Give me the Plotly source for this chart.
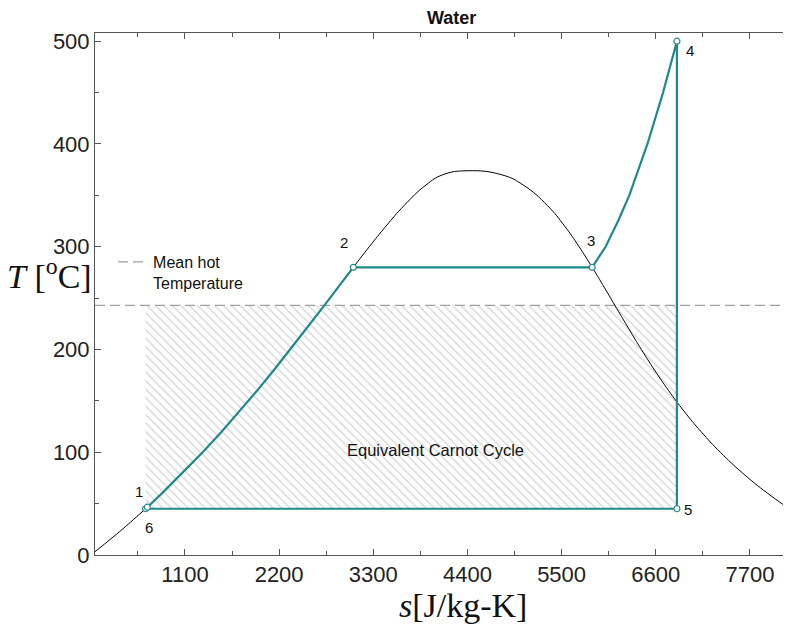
import plotly.graph_objects as go

# ---- data (read from the picture / water saturation data) ----
# saturated liquid line: T [C], s [J/kg-K]
sat_liq_T = [0.01, 20, 40, 60, 80, 100, 120, 140, 160, 180, 200, 220, 240, 260, 280, 300, 320, 340, 360, 370, 373.95]
sat_liq_s = [0, 296.6, 572.4, 831.2, 1075.3, 1306.9, 1527.6, 1739.1, 1942.7, 2139.5, 2330.8, 2517.8, 2701.5, 2883.8, 3066.8, 3253.4, 3448.0, 3659.4, 3914.7, 4110.6, 4407.0]
# saturated vapour line
sat_vap_T = [373.95, 370, 360, 340, 320, 300, 280, 260, 240, 220, 200, 180, 160, 140, 120, 100, 80, 60, 40, 20]
sat_vap_s = [4407.0, 4801.3, 5052.6, 5335.7, 5536.2, 5704.5, 5857.1, 6001.9, 6143.7, 6286.1, 6432.3, 6585.7, 6750.2, 6929.9, 7129.6, 7354.4, 7611.1, 7908.2, 8255.5, 8666.0]

# cycle path 6 -> 1 -> 2 -> 3 -> 4 -> 5 -> 6
cycle_s = [639, 660, 831, 1075, 1307, 1528, 1739, 1943, 2140, 2331, 2518, 2702, 2884, 3067,
           5857, 6014, 6160, 6291, 6503, 6685, 6847, 6847, 639]
cycle_T = [45, 46.5, 60, 80, 100, 120, 140, 160, 180, 200, 220, 240, 260, 280,
           280, 300, 325, 350, 400, 450, 500, 45, 45]

# state points
pt_labels = ["6", "1", "2", "3", "4", "5"]
pt_s = [639, 660, 3067, 5857, 6847, 6847]
pt_T = [45, 46.5, 280, 280, 500, 45]

T_mean_hot = 243
x_range = [49, 8180]
y_range = [0, 508]
x_ticks = [1100, 2200, 3300, 4400, 5500, 6600, 7700]
y_ticks = [0, 100, 200, 300, 400, 500]

teal = "#1f8a8a"
axis_col = "#555555"

fig = go.Figure()

# hatched equivalent Carnot rectangle
s_lo, s_hi = pt_s[0], pt_s[4]
T_lo = pt_T[0]
fig.add_trace(go.Scatter(
    x=[s_lo, s_hi, s_hi, s_lo, s_lo], y=[T_lo, T_lo, T_mean_hot, T_mean_hot, T_lo],
    mode="lines", line=dict(width=0), fill="toself", fillcolor="rgba(255,255,255,0)",
    fillpattern=dict(shape="\\", fgcolor="#aaaaaa", bgcolor="rgba(255,255,255,0)", size=6, solidity=0.22),
    showlegend=False, hoverinfo="skip"))

# mean hot temperature dashed line
fig.add_trace(go.Scatter(
    x=x_range, y=[T_mean_hot, T_mean_hot], mode="lines",
    line=dict(color="#a0a0a0", width=1.2, dash="10px,5px"),
    name="Mean hot<br>Temperature", showlegend=True))

# saturation dome
fig.add_trace(go.Scatter(x=sat_liq_s + sat_vap_s[1:], y=sat_liq_T + sat_vap_T[1:], mode="lines",
                         line=dict(color="black", width=1, shape="spline", smoothing=1.3),
                         showlegend=False))

# cycle
fig.add_trace(go.Scatter(x=cycle_s, y=cycle_T, mode="lines",
                         line=dict(color=teal, width=2.2, shape="linear"), showlegend=False))

# state markers
fig.add_trace(go.Scatter(x=pt_s, y=pt_T, mode="markers",
                         marker=dict(symbol="circle", size=6, color="white",
                                     line=dict(color=teal, width=1.2)),
                         showlegend=False))

label_shift = {"6": (3, -19), "1": (-8, 16), "2": (-9, 25), "3": (-1, 27), "4": (13, -9), "5": (11, -1)}
for lab, s, T in zip(pt_labels, pt_s, pt_T):
    dx, dy = label_shift[lab]
    fig.add_annotation(x=s, y=T, text=lab, showarrow=False, xshift=dx, yshift=dy,
                       font=dict(family="Arial, Liberation Sans", size=15, color="#111"))

fig.add_annotation(x=(s_lo + s_hi) / 2 + 280, y=102, text="Equivalent Carnot Cycle", showarrow=False,
                   font=dict(family="Arial, Liberation Sans", size=16.5, color="#111"))

# title
fig.add_annotation(xref="paper", yref="paper", x=0.5115, y=1, yshift=15, xanchor="center", yanchor="middle",
                   text="<b>Water</b>", showarrow=False,
                   font=dict(family="Arial, Liberation Sans", size=18, color="#111"))

# axis labels (horizontal y label)
fig.add_annotation(xref="paper", yref="paper", x=-0.066, y=0.538, xanchor="center", yanchor="middle",
                   text="<i>T</i> [<sup>o</sup>C]", showarrow=False,
                   font=dict(family="Liberation Serif, Times New Roman", size=34, color="#111"))
fig.add_annotation(xref="paper", yref="paper", x=0.529, y=0, yshift=-50, xanchor="center", yanchor="middle",
                   text="<i>s</i>[J/kg-K]", showarrow=False,
                   font=dict(family="Liberation Serif, Times New Roman", size=34, color="#111"))

tickfont = dict(family="Arial, Liberation Sans", size=22, color="#222")
fig.update_xaxes(range=x_range, tickvals=x_ticks, ticktext=[str(v) for v in x_ticks],
                 showline=True, linecolor=axis_col, linewidth=1, mirror="ticks",
                 ticks="inside", ticklen=6, tickcolor=axis_col, automargin=False,
                 minor=dict(ticks="inside", ticklen=4, dtick=550, tick0=0, tickcolor=axis_col),
                 showgrid=False, zeroline=False, tickfont=tickfont)
fig.update_yaxes(range=y_range, tickvals=y_ticks, ticktext=[str(v) for v in y_ticks],
                 showline=True, linecolor=axis_col, linewidth=1, mirror=False,
                 ticks="inside", ticklen=6, tickcolor=axis_col, automargin=False,
                 minor=dict(ticks="inside", ticklen=4, dtick=50, tick0=0, tickcolor=axis_col),
                 showgrid=False, zeroline=False, tickfont=tickfont)

# the page adds an 8px body margin, so the figure is sized to fill the rest of the window
fig.update_layout(
    width=783, height=631,
    margin=dict(l=87, r=0, t=25, b=84, autoexpand=False),
    plot_bgcolor="white", paper_bgcolor="white",
    legend=dict(x=0.026, y=0.594, xanchor="left", yanchor="top", bgcolor="rgba(0,0,0,0)",
                valign="top", font=dict(family="Arial, Liberation Sans", size=16, color="#111")),
)

fig.write_html("out.html")
